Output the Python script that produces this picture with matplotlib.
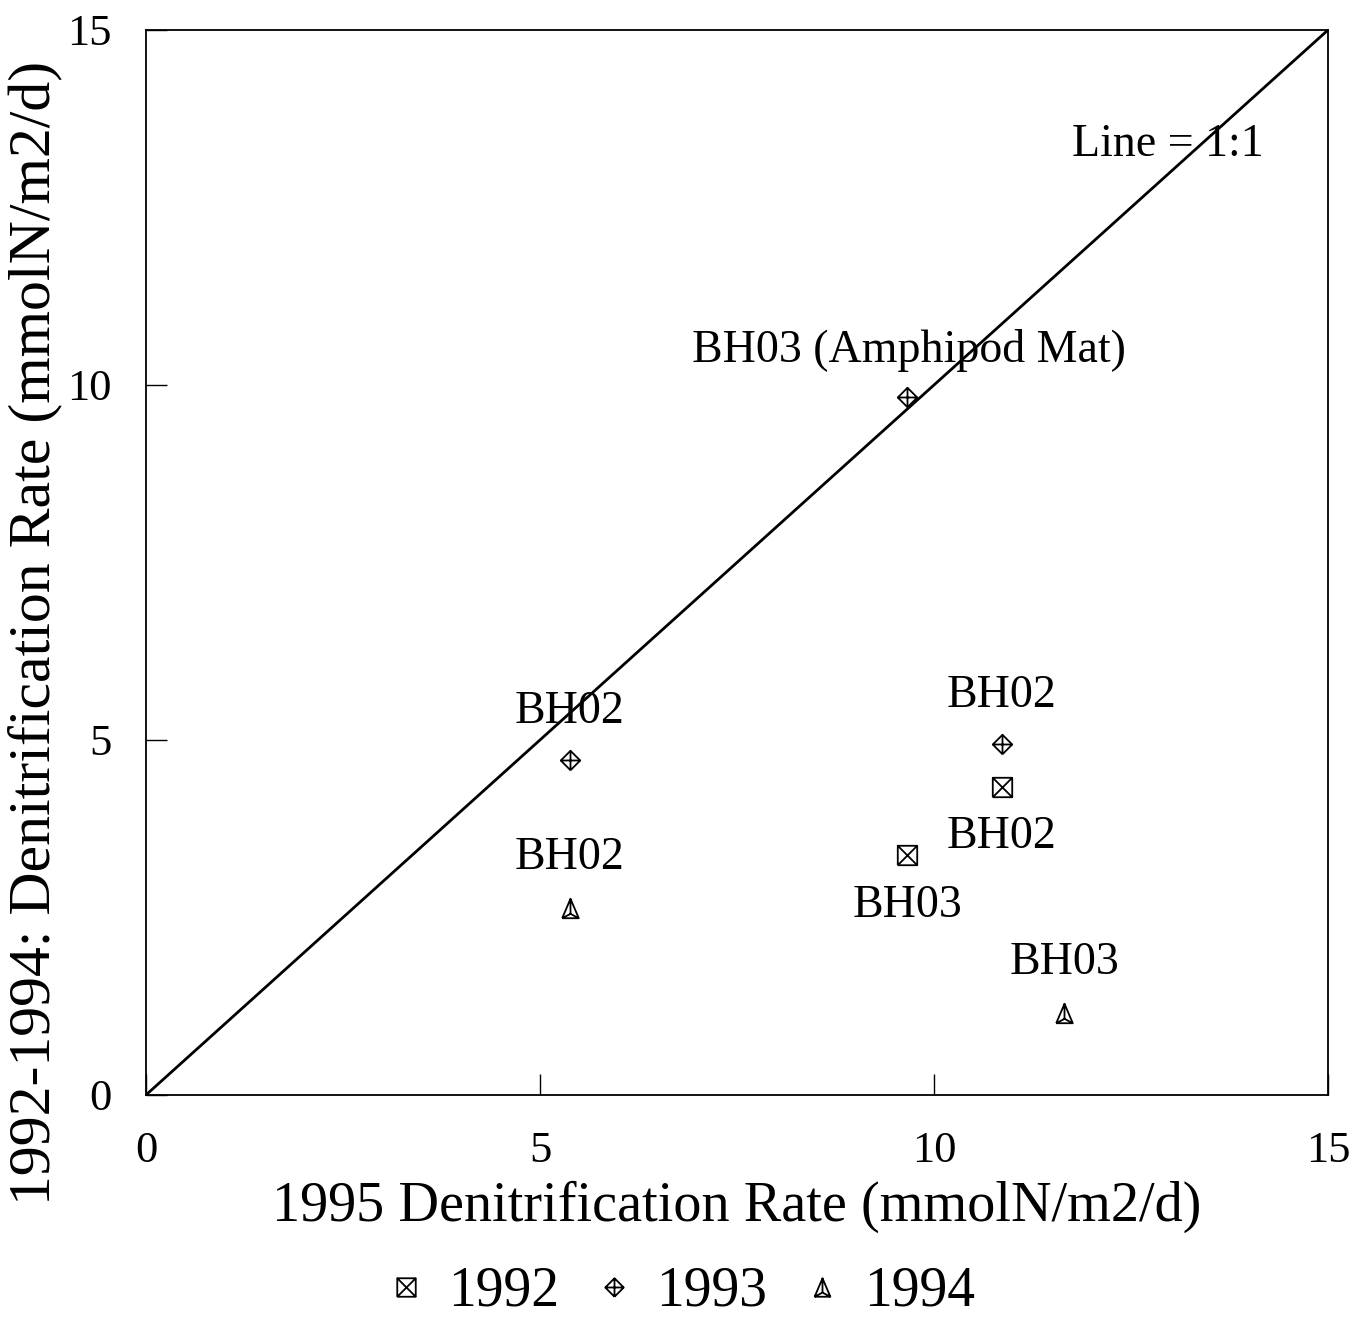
import numpy as np
import matplotlib.pyplot as plt
from matplotlib.path import Path

plt.rcParams['font.family'] = ['Liberation Serif', 'DejaVu Serif']

# data (mmolN/m2/d)
x_1992 = [10.86, 9.66]
y_1992 = [4.34, 3.38]
x_1993 = [5.38, 9.66, 10.86]
y_1993 = [4.72, 9.83, 4.94]
x_1994 = [5.38, 11.65]
y_1994 = [2.63, 1.15]

labels = ["BH02", "BH02", "BH03 (Amphipod Mat)", "BH02", "BH02", "BH03", "BH03"]
label_x = [5.38, 5.38, 9.68, 10.86, 10.86, 9.66, 11.65]
label_y = [5.40, 3.34, 10.49, 5.63, 3.63, 2.66, 1.86]

ticks = [0, 5, 10, 15]

M, L = Path.MOVETO, Path.LINETO

# square with an X inside
sq_x = Path([(-1, -1), (1, -1), (1, 1), (-1, 1), (-1, -1),
             (-1, -1), (1, 1), (-1, 1), (1, -1)],
            [M, L, L, L, L, M, L, M, L])
# diamond with a plus inside
dia_plus = Path([(0, -1), (1, 0), (0, 1), (-1, 0), (0, -1),
                 (0, -1), (0, 1), (-1, 0), (1, 0)],
                [M, L, L, L, L, M, L, M, L])
# triangle seen as a pyramid
pyr = Path([(-0.85, -1), (0.85, -1), (0, 1), (-0.85, -1),
            (0, 1), (0, -0.55), (-0.85, -1), (0, -0.55), (0.85, -1)],
           [M, L, L, L, M, L, M, L, L])

fig = plt.figure(figsize=(13.59, 13.21), dpi=100)
ax = fig.add_axes([0.1074, 0.1711, 0.8698, 0.8062])

ax.plot([0, 15], [0, 15], color='black', lw=2.0)

mk = dict(linestyle='none', color='black', markerfacecolor='none',
          markersize=14, markeredgewidth=1.3)
ax.plot(x_1992, y_1992, marker=sq_x, label='1992', **mk)
ax.plot(x_1993, y_1993, marker=dia_plus, label='1993', **mk)
ax.plot(x_1994, y_1994, marker=pyr, label='1994', **mk)

for t, lx, ly in zip(labels, label_x, label_y):
    ax.text(lx, ly, t, ha='center', va='center', fontsize=33)
ax.text(12.97, 13.38, "Line = 1:1", ha='center', va='center', fontsize=33)

ax.set_xlim(0, 15)
ax.set_ylim(0, 15)
ax.set_xticks(ticks)
ax.set_yticks(ticks)
ax.tick_params(direction='in', length=15, width=1, labelsize=32)
ax.tick_params(axis='x', pad=26)
ax.tick_params(axis='y', pad=25)
for s in ax.spines.values():
    s.set_linewidth(1.3)

ax.set_xlabel("1995 Denitrification Rate (mmolN/m2/d)", fontsize=40.5, labelpad=7)
ax.set_ylabel("1992-1994: Denitrification Rate (mmolN/m2/d)", fontsize=43)
ax.yaxis.set_label_coords(-0.0711, 0.434)

fig.legend(loc='center', ncol=3, frameon=False, fontsize=40,
           bbox_to_anchor=(0.5, 29 / 1321), handlelength=0.8, columnspacing=0.58,
           handletextpad=0.36, borderpad=0, markerscale=0.95)

fig.savefig("out.png", dpi=100)
